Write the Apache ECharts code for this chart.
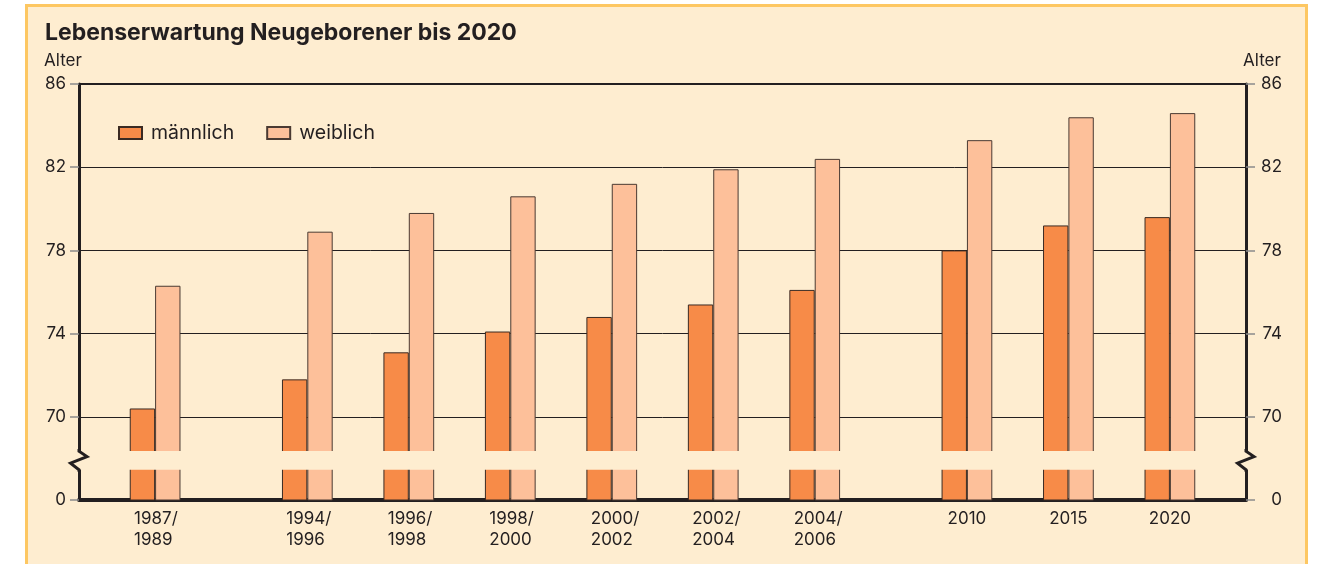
<!DOCTYPE html>
<html>
<head>
<meta charset="utf-8">
<script src="https://cdn.jsdelivr.net/npm/echarts@6/dist/echarts.min.js"></script>
<style>
  html, body { margin: 0; padding: 0; background: #ffffff; }
  #chart { width: 1322px; height: 564px; }
</style>
</head>
<body>
<div id="chart"></div>
<script>
// ---- data ----
const periods = ['1987/\n1989', '1994/\n1996', '1996/\n1998', '1998/\n2000', '2000/\n2002',
                 '2002/\n2004', '2004/\n2006', '2010', '2015', '2020'];
const male   = [70.4, 71.8, 73.1, 74.1, 74.8, 75.4, 76.1, 78.0, 79.2, 79.6];
const female = [76.3, 78.9, 79.8, 80.6, 81.2, 81.9, 82.4, 83.3, 84.4, 84.6];
const yTickLabels = ['0', '70', '74', '78', '82', '86'];
const seriesNames = ['männlich', 'weiblich'];

// ---- layout (axis slots, broken axis) ----
const SLOT_COUNT = 23;
const slotIndex = [1, 4, 6, 8, 10, 12, 14, 17, 19, 21];
const AXIS_MIN = 66, AXIS_MAX = 86, AXIS_STEP = 4;
const BREAK_LOW = 67.45, BREAK_HIGH = 68.35;

const BG = '#FEEDD0';
const INK = '#231F20';
const FONT = 'Inter, "Liberation Sans", Arial, sans-serif';
const TICK_FS = 17;

const axisCats = new Array(SLOT_COUNT).fill('');
const maleData = new Array(SLOT_COUNT).fill('-');
const femaleData = new Array(SLOT_COUNT).fill('-');
slotIndex.forEach((s, i) => {
  axisCats[s] = periods[i];
  maleData[s] = male[i];
  femaleData[s] = female[i];
});

const chart = echarts.init(document.getElementById('chart'), null, { renderer: 'canvas' });

function zig(x, yTop, yBot) {
  return [[x, yTop - 2], [x, yTop], [x + 8, yTop + 5.5], [x - 8.5, yTop + 12], [x, yBot], [x, yBot + 2]];
}

const yAxisBase = {
  type: 'value',
  min: AXIS_MIN,
  max: AXIS_MAX,
  interval: AXIS_STEP,
  name: 'Alter',
  nameLocation: 'end',
  nameGap: 15,
  axisLine: { show: true, lineStyle: { color: INK, width: 3 } },
  axisTick: { show: true, length: 9, lineStyle: { color: '#8a8a8a', width: 1.5 } },
  axisLabel: {
    color: INK, fontSize: TICK_FS, fontFamily: FONT,
    formatter: v => yTickLabels[Math.round((v - AXIS_MIN) / AXIS_STEP)]
  }
};

const option = {
  backgroundColor: 'transparent',
  animation: false,
  graphic: [{
    type: 'rect', z: -10, silent: true,
    shape: { x: 26.5, y: 5.5, width: 1280, height: 620 },
    style: { fill: BG, stroke: '#FDC762', lineWidth: 3 }
  }],
  title: {
    text: 'Lebenserwartung Neugeborener bis 2020',
    left: 40, top: 17,
    textStyle: { color: INK, fontSize: 23, fontWeight: 'bold', fontFamily: FONT }
  },
  legend: {
    data: seriesNames,
    left: 113, top: 118,
    itemWidth: 23, itemHeight: 12, itemGap: 32,
    icon: 'rect',
    textStyle: { color: INK, fontSize: 19.5, fontFamily: FONT, padding: [0, 0, 0, 4] }
  },
  grid: {
    left: 79, right: 76, top: 84, bottom: 64,
    show: true, borderColor: INK, borderWidth: 2, backgroundColor: 'transparent'
  },
  xAxis: {
    type: 'category',
    data: axisCats,
    axisLine: { show: true, onZero: false, lineStyle: { color: INK, width: 4 } },
    axisTick: { show: false },
    axisLabel: {
      interval: 0, color: INK, fontSize: TICK_FS, fontFamily: FONT, lineHeight: 21, margin: 8,
      formatter: v => v.indexOf('\n') >= 0 ? v.split('\n').map(l => '{a|' + l + '}').join('\n') : v,
      rich: { a: { width: 42, align: 'left', color: INK, fontSize: TICK_FS, fontFamily: FONT, lineHeight: 21 } }
    },
    splitLine: { show: false }
  },
  yAxis: [
    Object.assign({}, yAxisBase, {
      position: 'left',
      nameTextStyle: { color: INK, fontSize: 17, fontFamily: FONT, align: 'center', padding: [0, 32, 0, 0] },
      axisLabel: Object.assign({}, yAxisBase.axisLabel, { margin: 13 }),
      splitLine: { show: true, lineStyle: { color: INK, width: 1 } }
    }),
    Object.assign({}, yAxisBase, {
      position: 'right',
      nameTextStyle: { color: INK, fontSize: 17, fontFamily: FONT, align: 'center', padding: [0, 0, 0, 32] },
      axisLabel: Object.assign({}, yAxisBase.axisLabel, { margin: 36, align: 'right' }),
      splitLine: { show: false }
    })
  ],
  series: [
    {
      name: seriesNames[0], type: 'bar', data: maleData,
      barWidth: '50%', barGap: '0%', barCategoryGap: '0%',
      itemStyle: { color: '#F78B48', borderColor: '#3a2a22', borderWidth: 1 }
    },
    {
      name: seriesNames[1], type: 'bar', data: femaleData,
      barWidth: '50%', barGap: '0%', barCategoryGap: '0%',
      itemStyle: { color: '#FDC09A', borderColor: '#4a3a32', borderWidth: 1 }
    },
    {
      type: 'custom', name: 'break', z: 10, silent: true,
      data: [[0, AXIS_MIN]],
      renderItem: function (params, api) {
        const cs = params.coordSys;
        const yTop = api.coord([0, BREAK_HIGH])[1];
        const yBot = api.coord([0, BREAK_LOW])[1];
        const xl = cs.x, xr = cs.x + cs.width;
        const lineStyle = { stroke: INK, lineWidth: 3, fill: null, lineJoin: 'miter' };
        return {
          type: 'group',
          children: [
            { type: 'rect', shape: { x: xl - 3, y: yTop, width: cs.width + 6, height: yBot - yTop }, style: { fill: BG } },
            { type: 'polyline', shape: { points: zig(xl, yTop, yBot) }, style: lineStyle },
            { type: 'polyline', shape: { points: zig(xr, yTop, yBot) }, style: lineStyle }
          ]
        };
      }
    }
  ]
};

chart.setOption(option);
</script>
</body>
</html>
